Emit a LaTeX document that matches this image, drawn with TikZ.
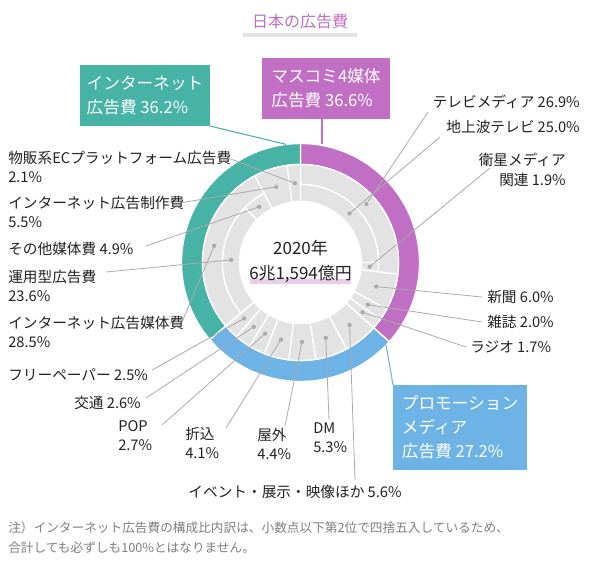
\documentclass[tikz,border=0pt]{standalone}
\usepackage{fontspec}
\setmainfont{Noto Sans CJK JP}
\usetikzlibrary{calc}
\definecolor{masu}{HTML}{C06FC4}
\definecolor{net}{HTML}{46B3A6}
\definecolor{promo}{HTML}{6DB3E6}
\definecolor{seg}{HTML}{E3E3E3}
\definecolor{txt}{HTML}{222222}
\definecolor{lead}{HTML}{AAAAAA}
\newcommand{\sector}[5]{%
  \filldraw[fill=#1,draw=white,line width=1pt] ($(C)+({90-3.6*#2}:#5)$)
    arc[start angle={90-3.6*#2}, end angle={90-3.6*#3}, radius=#5]
    -- ($(C)+({90-3.6*#3}:#4)$)
    arc[start angle={90-3.6*#3}, end angle={90-3.6*#2}, radius=#4] -- cycle;}
\newcommand{\dotat}[4]{\coordinate (#1) at ($(C)+({90-1.8*(#2+#3)}:#4)$);
  \fill[lead] (#1) circle (1.6pt);}
\tikzset{
  lbl/.style={text=txt,font=\fontsize{11}{14.5}\selectfont,inner sep=0pt,align=left},
  catbox/.style={text=white,font=\fontsize{12.5}{18}\selectfont,inner sep=0pt,align=left},
  leadline/.style={draw=lead,line width=0.6pt}
}
\begin{document}
\begin{tikzpicture}[x=0.75pt,y=0.75pt]
\useasboundingbox (0,0) rectangle (600,-572);
\fill[white] (0,0) rectangle (600,-572);
\coordinate (C) at (300.5,-262.5);
\def\ra{45.75pt}\def\rb{58.5pt}\def\rc{73.5pt}\def\rd{89.25pt}
% title
\fill[seg] (243,-33) rectangle (357,-37);
\node[text=masu,font=\fontsize{12}{14}\selectfont] (title) at (300,-21) {日本の広告費};
% outer ring
\sector{masu}{0}{36.6}{\rc}{\rd}
\sector{promo}{36.6}{63.8}{\rc}{\rd}
\sector{net}{63.8}{100}{\rc}{\rd}
% mass media
\sector{seg}{0}{26.9}{\rb}{\rc}
\sector{seg}{0}{25.0}{\ra}{\rb}
\sector{seg}{25.0}{26.9}{\ra}{\rb}
\sector{seg}{26.9}{32.9}{\ra}{\rc}
\sector{seg}{32.9}{34.9}{\ra}{\rc}
\sector{seg}{34.9}{36.6}{\ra}{\rc}
% promotion
\sector{seg}{36.6}{42.2}{\ra}{\rc}
\sector{seg}{42.2}{47.5}{\ra}{\rc}
\sector{seg}{47.5}{51.9}{\ra}{\rc}
\sector{seg}{51.9}{56.0}{\ra}{\rc}
\sector{seg}{56.0}{58.7}{\ra}{\rc}
\sector{seg}{58.7}{61.3}{\ra}{\rc}
\sector{seg}{61.3}{63.8}{\ra}{\rc}
% internet
\sector{seg}{63.8}{92.3}{\rb}{\rc}
\sector{seg}{63.8}{87.4}{\ra}{\rb}
\sector{seg}{87.4}{92.3}{\ra}{\rb}
\sector{seg}{92.3}{97.8}{\ra}{\rc}
\sector{seg}{97.8}{100}{\ra}{\rc}
% centre
\fill[masu!35] (250,-279) rectangle (351,-284);
\node[lbl,align=center,font=\fontsize{12.7}{19}\selectfont] (total) at (300.5,-261.5) {2020年\\6兆1,594億円};
% dots
\dotat{tv}{0}{26.9}{66pt}
\dotat{chijo}{0}{25.0}{52pt}
\dotat{eisei}{25.0}{26.9}{52pt}
\dotat{shinbun}{26.9}{32.9}{59.6pt}
\dotat{zasshi}{32.9}{34.9}{59.6pt}
\dotat{radio}{34.9}{36.6}{59.6pt}
\dotat{event}{36.6}{42.2}{59.6pt}
\dotat{dm}{42.2}{47.5}{59.6pt}
\dotat{okugai}{47.5}{51.9}{59.6pt}
\dotat{orikomi}{51.9}{56.0}{59.6pt}
\dotat{pop}{56.0}{58.7}{59.6pt}
\dotat{kotsu}{58.7}{61.3}{59.6pt}
\dotat{free}{61.3}{63.8}{59.6pt}
\dotat{baitai}{63.8}{92.3}{66pt}
\dotat{unyo}{63.8}{87.4}{52pt}
\dotat{sonota}{87.4}{92.3}{52pt}
\dotat{seisaku}{92.3}{97.8}{59.6pt}
\dotat{ec}{97.8}{100}{59.6pt}
% right labels
\node[lbl,anchor=east] (ltv) at (580,-102) {テレビメディア 26.9\%};
\node[lbl,anchor=east] (lchijo) at (580,-127) {地上波テレビ 25.0\%};
\node[lbl,anchor=east,align=right] (leisei) at (566,-170) {衛星メディア\\関連 1.9\%};
\node[lbl,anchor=west] (lshinbun) at (487,-297) {新聞 6.0\%};
\node[lbl,anchor=west] (lzasshi) at (487,-322) {雑誌 2.0\%};
\node[lbl,anchor=west] (lradio) at (470,-347) {ラジオ 1.7\%};
\draw[leadline] (tv) -- (428,-112);
\draw[leadline] (chijo) -- (440,-137);
\draw[leadline] (eisei) -- (490,-168);
\draw[leadline] (shinbun) -- (482,-297);
\draw[leadline] (zasshi) -- (482,-322);
\draw[leadline] (radio) -- (466,-347);
% promotion labels
\node[lbl,anchor=center] (levent) at (295,-492) {イベント・展示・映像ほか 5.6\%};
\node[lbl,anchor=north west] (ldm) at (313,-422) {DM\\5.3\%};
\node[lbl,anchor=north west] (lokugai) at (257,-428) {屋外\\4.4\%};
\node[lbl,anchor=north west] (lorikomi) at (185,-427) {折込\\4.1\%};
\node[lbl,anchor=north west] (lpop) at (118,-420) {POP\\2.7\%};
\node[lbl,anchor=west] (lkotsu) at (74,-403) {交通 2.6\%};
\node[lbl,anchor=west] (lfree) at (8,-375) {フリーペーパー 2.5\%};
\draw[leadline] (event) -- (355,-480);
\draw[leadline] (dm) -- (329,-420);
\draw[leadline] (okugai) -- (285,-426);
\draw[leadline] (orikomi) -- (226,-428);
\draw[leadline] (pop) -- (162,-425);
\draw[leadline] (kotsu) -- (146,-398);
\draw[leadline] (free) -- (152,-370);
% internet labels
\node[lbl,anchor=west] (lbaitai) at (8,-332) {インターネット広告媒体費\\28.5\%};
\node[lbl,anchor=west] (lunyo) at (8,-286) {運用型広告費\\23.6\%};
\node[lbl,anchor=west] (lsonota) at (8,-249) {その他媒体費 4.9\%};
\node[lbl,anchor=west] (lseisaku) at (8,-212) {インターネット広告制作費\\5.5\%};
\node[lbl,anchor=west] (lec) at (8,-167) {物販系ECプラットフォーム広告費\\2.1\%};
\draw[leadline] (baitai) -- (182,-322);
\draw[leadline] (unyo) -- (106,-272);
\draw[leadline] (sonota) -- (146,-246);
\draw[leadline] (seisaku) -- (180,-203);
\draw[leadline] (ec) -- (228,-158);
% category boxes
\fill[net] (80,-65) rectangle (210,-126);
\node[catbox] (bnet) at (145,-95.5) {インターネット\\広告費 36.2\%};
\draw[net,line width=0.8pt] (210,-126) -- ($(C)+(97:\rd)$);
\fill[masu] (262,-58) rectangle (390,-119);
\node[catbox] (bmasu) at (326,-88.5) {マスコミ4媒体\\広告費 36.6\%};
\draw[masu,line width=0.8pt] (322,-119) -- (322,-144);
\fill[promo] (393,-385) rectangle (527,-470);
\node[catbox] (bpromo) at (460,-427.5) {プロモーション\\メディア\\広告費 27.2\%};
\draw[promo,line width=0.8pt] ($(C)+(-44:\rd)$) -- (393,-385);
% note
\node[text=gray,font=\fontsize{9.5}{15.5}\selectfont,anchor=north west,inner sep=0pt,align=left] (note) at (8,-521)
 {注）インターネット広告費の構成比内訳は、小数点以下第2位で四捨五入しているため、\\合計しても必ずしも100\%とはなりません。};
\end{tikzpicture}
\end{document}
